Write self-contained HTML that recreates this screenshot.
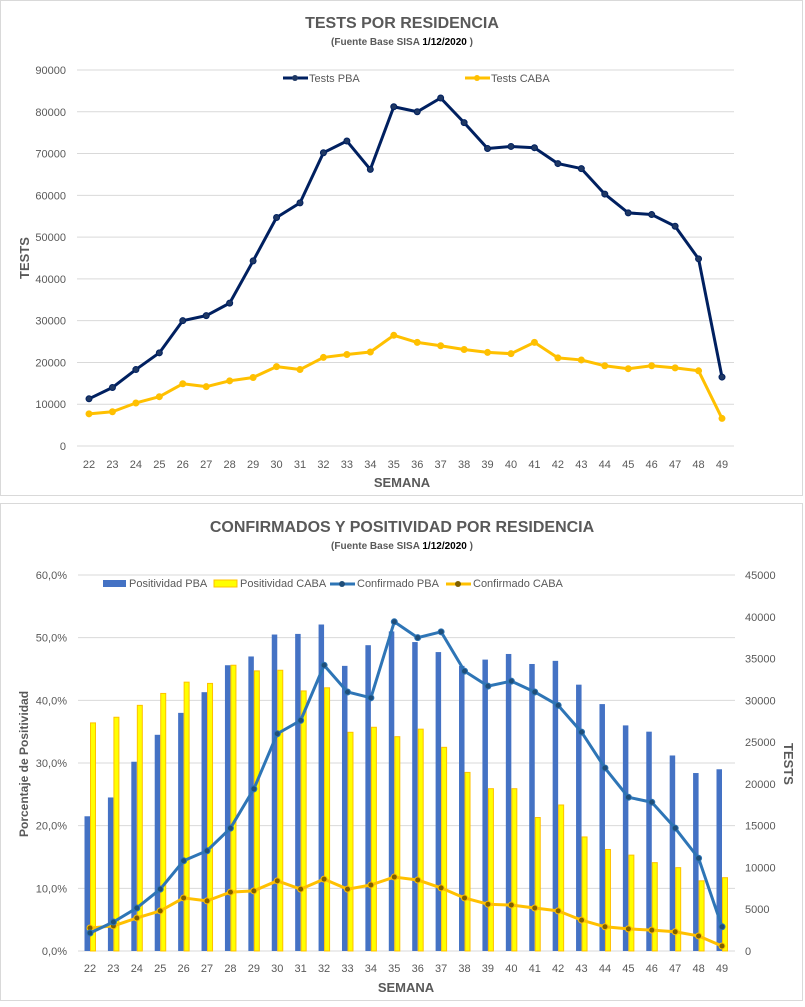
<!DOCTYPE html>
<html><head><meta charset="utf-8"><style>
body{margin:0;background:#fff;font-family:"Liberation Sans",sans-serif;}
svg text{font-family:"Liberation Sans",sans-serif;}
</style></head><body>
<svg id="svg" width="805" height="1002" viewBox="0 0 805 1002" xmlns="http://www.w3.org/2000/svg">
<rect x="0.5" y="0.5" width="802" height="495" fill="#fff" stroke="#d9d9d9"/>
<rect x="0.5" y="503.5" width="802" height="497" fill="#fff" stroke="#d9d9d9"/>
<text x="402" y="28" text-anchor="middle" font-size="16" font-weight="bold" fill="#595959">TESTS POR RESIDENCIA</text>
<text x="402" y="45" text-anchor="middle" font-size="10" font-weight="bold" fill="#595959">(Fuente Base SISA  <tspan fill="#000">1/12/2020</tspan> )</text>
<text x="402" y="532" text-anchor="middle" font-size="16" font-weight="bold" fill="#595959">CONFIRMADOS Y POSITIVIDAD POR RESIDENCIA</text>
<text x="402" y="549" text-anchor="middle" font-size="10" font-weight="bold" fill="#595959">(Fuente Base SISA   <tspan fill="#000">1/12/2020</tspan> )</text>
<g id="g1"></g><g id="g2"></g>
</svg>
<script>
const weeks=[22,23,24,25,26,27,28,29,30,31,32,33,34,35,36,37,38,39,40,41,42,43,44,45,46,47,48,49];
const testsPBA=[11300,14000,18300,22300,30000,31200,34200,44300,54700,58200,70200,73000,66200,81200,80000,83300,77400,71200,71700,71400,67600,66400,60300,55800,55400,52600,44800,16500];
const testsCABA=[7700,8200,10300,11800,14900,14200,15600,16400,19000,18300,21200,21900,22500,26500,24800,24000,23100,22400,22100,24800,21100,20600,19200,18500,19200,18700,18000,6600];
const topTicks=[0,10000,20000,30000,40000,50000,60000,70000,80000,90000];
const posPBA=[21.5,24.5,30.2,34.5,38,41.3,45.6,47,50.5,50.6,52.1,45.5,48.8,51,49.3,47.7,45.5,46.5,47.4,45.8,46.3,42.5,39.4,36,35,31.2,28.4,29];
const posCABA=[36.4,37.3,39.2,41.1,42.9,42.7,45.6,44.7,44.8,41.5,42,34.9,35.7,34.2,35.4,32.5,28.5,25.9,25.9,21.3,23.3,18.2,16.2,15.3,14.1,13.3,11.2,11.7];
const confPBA=[2150,3470,5150,7400,10800,12000,14700,19400,26000,27600,34200,31000,30300,39400,37500,38200,33500,31700,32300,31000,29400,26200,21900,18400,17800,14700,11100,2900];
const confCABA=[2750,3000,3950,4800,6350,6000,7050,7200,8400,7400,8600,7400,7900,8850,8500,7550,6350,5600,5500,5150,4800,3700,2900,2650,2500,2300,1800,600];
const pctTicks=[0,10,20,30,40,50,60];
const rightTicks=[0,5000,10000,15000,20000,25000,30000,35000,40000,45000];

const NS="http://www.w3.org/2000/svg";
function mk(p,t,a){const e=document.createElementNS(NS,t);for(const k in a)e.setAttribute(k,a[k]);p.appendChild(e);return e;}
const g1=document.getElementById('g1'),g2=document.getElementById('g2');

// top chart
const x1=i=>89+i*(633/27);
const y1=v=>446-v*376/90000;
topTicks.forEach(t=>{
 const l=mk(g1,'line',{x1:77,x2:734,y1:y1(t),y2:y1(t),stroke:'#d9d9d9','stroke-width':1});
 
 
 const tx=mk(g1,'text',{x:66,y:y1(t)+4,'text-anchor':'end','font-size':11,fill:'#595959'});tx.textContent=t;
 
 
});
weeks.forEach((w,i)=>{const tx=mk(g1,'text',{x:x1(i),y:468,'text-anchor':'middle','font-size':11,fill:'#595959'});tx.textContent=w;
 
 });
let t=mk(g1,'text',{x:402,y:487,'text-anchor':'middle','font-size':13,'font-weight':'bold',fill:'#595959'});t.textContent='SEMANA';


t=mk(g1,'text',{x:0,y:0,transform:'translate(29,258) rotate(-90)','text-anchor':'middle','font-size':13,'font-weight':'bold',fill:'#595959'});t.textContent='TESTS';


function series(g,data,xf,yf,color,w,r,fillc,name){
 const p=mk(g,'polyline',{points:data.map((v,i)=>xf(i)+','+yf(v)).join(' '),fill:'none',stroke:color,'stroke-width':w,'stroke-linejoin':'round'});
 
 
 data.forEach((v,i)=>{const c=mk(g,'circle',{cx:xf(i),cy:yf(v),r:r,fill:fillc,stroke:color,'stroke-width':1});
  
  });
}
series(g1,testsCABA,x1,y1,'#ffc000',3,3,'#ffc000','tests-caba');
series(g1,testsPBA,x1,y1,'#002060',3,3,'#1f3864','tests-pba');
// legend top
let le=mk(g1,'line',{x1:283,x2:308,y1:78,y2:78,stroke:'#002060','stroke-width':3});


mk(g1,'circle',{cx:295,cy:78,r:3,fill:'#1f3864'});
t=mk(g1,'text',{x:309,y:82,'font-size':11,fill:'#595959'});t.textContent='Tests PBA';


le=mk(g1,'line',{x1:300+0,x2:0,y1:0,y2:0});le.remove();
le=mk(g1,'line',{x1:465,x2:490,y1:78,y2:78,stroke:'#ffc000','stroke-width':3});


mk(g1,'circle',{cx:477,cy:78,r:3,fill:'#ffc000'});
t=mk(g1,'text',{x:491,y:82,'font-size':11,fill:'#595959'});t.textContent='Tests CABA';



// bottom chart
const x2=i=>90+i*(632/27);
const yp=v=>951-v*376/60;
const yr=v=>951-v*376/45000;
pctTicks.forEach(p=>{
 const l=mk(g2,'line',{x1:78,x2:735,y1:yp(p),y2:yp(p),stroke:'#d9d9d9','stroke-width':1});
 
 
 const tx=mk(g2,'text',{x:67,y:yp(p)+4,'text-anchor':'end','font-size':11,fill:'#595959'});tx.textContent=p.toFixed(1).replace('.',',')+'%';
 
 
});
rightTicks.forEach(r=>{
 const tx=mk(g2,'text',{x:745,y:yr(r)+4,'font-size':11,fill:'#595959'});tx.textContent=r;
 
 
});
weeks.forEach((w,i)=>{const tx=mk(g2,'text',{x:x2(i),y:972,'text-anchor':'middle','font-size':11,fill:'#595959'});tx.textContent=w;
 
 });
t=mk(g2,'text',{x:406,y:992,'text-anchor':'middle','font-size':13,'font-weight':'bold',fill:'#595959'});t.textContent='SEMANA';


t=mk(g2,'text',{x:0,y:0,transform:'translate(28,764) rotate(-90)','text-anchor':'middle','font-size':12,'font-weight':'bold',fill:'#595959'});t.textContent='Porcentaje de Positividad';


t=mk(g2,'text',{x:0,y:0,transform:'translate(784,764) rotate(90)','text-anchor':'middle','font-size':13,'font-weight':'bold',fill:'#595959'});t.textContent='TESTS';


posPBA.forEach((v,i)=>{const b=mk(g2,'rect',{x:x2(i)-5.5,y:yp(v),width:5.5,height:951-yp(v),fill:'#4472c4'});
 
 });
posCABA.forEach((v,i)=>{const b=mk(g2,'rect',{x:x2(i)+0.5,y:yp(v),width:5,height:951-yp(v),fill:'#ffff00',stroke:'#ffc000','stroke-width':1});
 
 });
series(g2,confCABA,x2,yr,'#ffc000',3,3,'#7f6000','confirmado-caba');
series(g2,confPBA,x2,yr,'#2e75b6',3,3,'#1f4e79','confirmado-pba');
// legend bottom
le=mk(g2,'rect',{x:103,y:580,width:23,height:7,fill:'#4472c4'});


t=mk(g2,'text',{x:129,y:587,'font-size':11,fill:'#595959'});t.textContent='Positividad PBA';


le=mk(g2,'rect',{x:214,y:580,width:23,height:7,fill:'#ffff00',stroke:'#ffc000'});


t=mk(g2,'text',{x:240,y:587,'font-size':11,fill:'#595959'});t.textContent='Positividad CABA';


le=mk(g2,'line',{x1:330,x2:355,y1:584,y2:584,stroke:'#2e75b6','stroke-width':3});


mk(g2,'circle',{cx:342,cy:584,r:3,fill:'#1f4e79'});
t=mk(g2,'text',{x:357,y:587,'font-size':11,fill:'#595959'});t.textContent='Confirmado PBA';


le=mk(g2,'line',{x1:446,x2:471,y1:584,y2:584,stroke:'#ffc000','stroke-width':3});


mk(g2,'circle',{cx:458,cy:584,r:3,fill:'#7f6000'});
t=mk(g2,'text',{x:473,y:587,'font-size':11,fill:'#595959'});t.textContent='Confirmado CABA';


</script>
</body></html>
